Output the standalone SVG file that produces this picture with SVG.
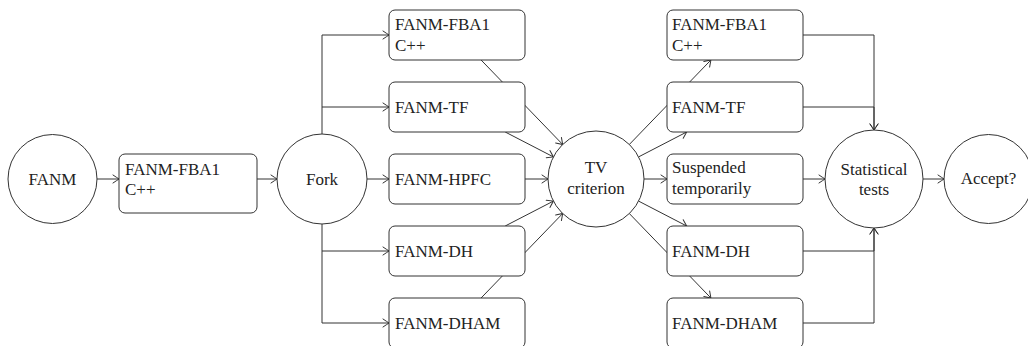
<svg xmlns="http://www.w3.org/2000/svg" width="1028" height="346" viewBox="0 0 1028 346">
<defs>
<style>
.n{fill:#fff;stroke:#333;stroke-width:1}
.c{fill:none;stroke:#333;stroke-width:1;marker-end:url(#ah)}
.p{fill:none;stroke:#333;stroke-width:1}
text{font-family:"Liberation Serif","DejaVu Serif",serif;font-size:17px;fill:#222}
.m{text-anchor:middle}
</style>
<marker id="ah" markerWidth="10" markerHeight="10" refX="9" refY="5" orient="auto" markerUnits="userSpaceOnUse" viewBox="0 0 10 10">
<path d="M3,1 Q7.5,4 9,5 Q7.5,6 3,9" fill="none" stroke="#333" stroke-width="1" stroke-linecap="round"/>
</marker>
</defs>
<rect width="1028" height="346" fill="#fff"/>
<g id="connectors">
<path class="c" d="M97,179 H119"/>
<path class="c" d="M257,179 H277"/>
<path class="p" d="M322,134 V35"/>
<path class="p" d="M322,224 V323"/>
<path class="c" d="M322,35 H389"/>
<path class="c" d="M322,107 H389"/>
<path class="c" d="M367,179 H389"/>
<path class="c" d="M322,251 H389"/>
<path class="c" d="M322,323 H389"/>
<path class="c" d="M481.1,60 L562.7,144.5"/>
<path class="c" d="M505.2,132 L553.4,156.9"/>
<path class="c" d="M525,179 H548"/>
<path class="c" d="M505.2,226 L553.4,201.1"/>
<path class="c" d="M481.1,298 L562.7,213.5"/>
<path class="c" d="M629.3,144.5 L710.9,60"/>
<path class="c" d="M638.6,156.9 L686.7,132"/>
<path class="c" d="M644,179 H667"/>
<path class="c" d="M638.6,201.1 L686.7,226"/>
<path class="c" d="M629.3,213.5 L710.9,298"/>
<path class="c" d="M803,35 H874 V130"/>
<path class="c" d="M803,107 H874 V130"/>
<path class="c" d="M803,179 H825"/>
<path class="c" d="M803,251 H874 V228"/>
<path class="c" d="M803,323 H874 V228"/>
<path class="c" d="M923,179 H944"/>
</g>
<g id="fanm"><circle class="n" cx="52.5" cy="179" r="44.5"/><text class="m" x="52.5" y="185" font-family="Liberation Serif">FANM</text></g>
<g id="fba1-a"><rect class="n" x="119" y="154" width="138" height="59" rx="6"/><text x="125" y="175" font-family="Liberation Serif">FANM-FBA1</text><text x="125" y="195" font-family="Liberation Serif">C++</text></g>
<g id="fork"><circle class="n" cx="322" cy="179" r="45"/><text class="m" x="322" y="185" font-family="Liberation Serif">Fork</text></g>
<g id="m-fba1"><rect class="n" x="389" y="10" width="136" height="50" rx="6"/><text x="395" y="30" font-family="Liberation Serif">FANM-FBA1</text><text x="395" y="51" font-family="Liberation Serif">C++</text></g>
<g id="m-tf"><rect class="n" x="389" y="82" width="136" height="50" rx="6"/><text x="395" y="113" font-family="Liberation Serif">FANM-TF</text></g>
<g id="m-hpfc"><rect class="n" x="389" y="154" width="136" height="50" rx="6"/><text x="395" y="185" font-family="Liberation Serif">FANM-HPFC</text></g>
<g id="m-dh"><rect class="n" x="389" y="226" width="136" height="50" rx="6"/><text x="395" y="257" font-family="Liberation Serif">FANM-DH</text></g>
<g id="m-dham"><rect class="n" x="389" y="298" width="136" height="50" rx="6"/><text x="395" y="329" font-family="Liberation Serif">FANM-DHAM</text></g>
<g id="tv"><circle class="n" cx="596" cy="179" r="48"/><text class="m" x="596" y="173" font-family="Liberation Serif">TV</text><text class="m" x="596" y="194" font-family="Liberation Serif">criterion</text></g>
<g id="r-fba1"><rect class="n" x="667" y="10" width="136" height="50" rx="6"/><text x="672" y="30" font-family="Liberation Serif">FANM-FBA1</text><text x="672" y="51" font-family="Liberation Serif">C++</text></g>
<g id="r-tf"><rect class="n" x="667" y="82" width="136" height="50" rx="6"/><text x="672" y="113" font-family="Liberation Serif">FANM-TF</text></g>
<g id="r-susp"><rect class="n" x="667" y="154" width="136" height="50" rx="6"/><text x="672" y="173" font-family="Liberation Serif">Suspended</text><text x="672" y="194" font-family="Liberation Serif">temporarily</text></g>
<g id="r-dh"><rect class="n" x="667" y="226" width="136" height="50" rx="6"/><text x="672" y="257" font-family="Liberation Serif">FANM-DH</text></g>
<g id="r-dham"><rect class="n" x="667" y="298" width="136" height="50" rx="6"/><text x="672" y="329" font-family="Liberation Serif">FANM-DHAM</text></g>
<g id="stats"><circle class="n" cx="874" cy="179" r="49"/><text class="m" x="874" y="175" font-family="Liberation Serif">Statistical</text><text class="m" x="874" y="195" font-family="Liberation Serif">tests</text></g>
<g id="accept"><circle class="n" cx="988.5" cy="179" r="44.5"/><text class="m" x="988.5" y="184" font-family="Liberation Serif">Accept?</text></g>
</svg>
